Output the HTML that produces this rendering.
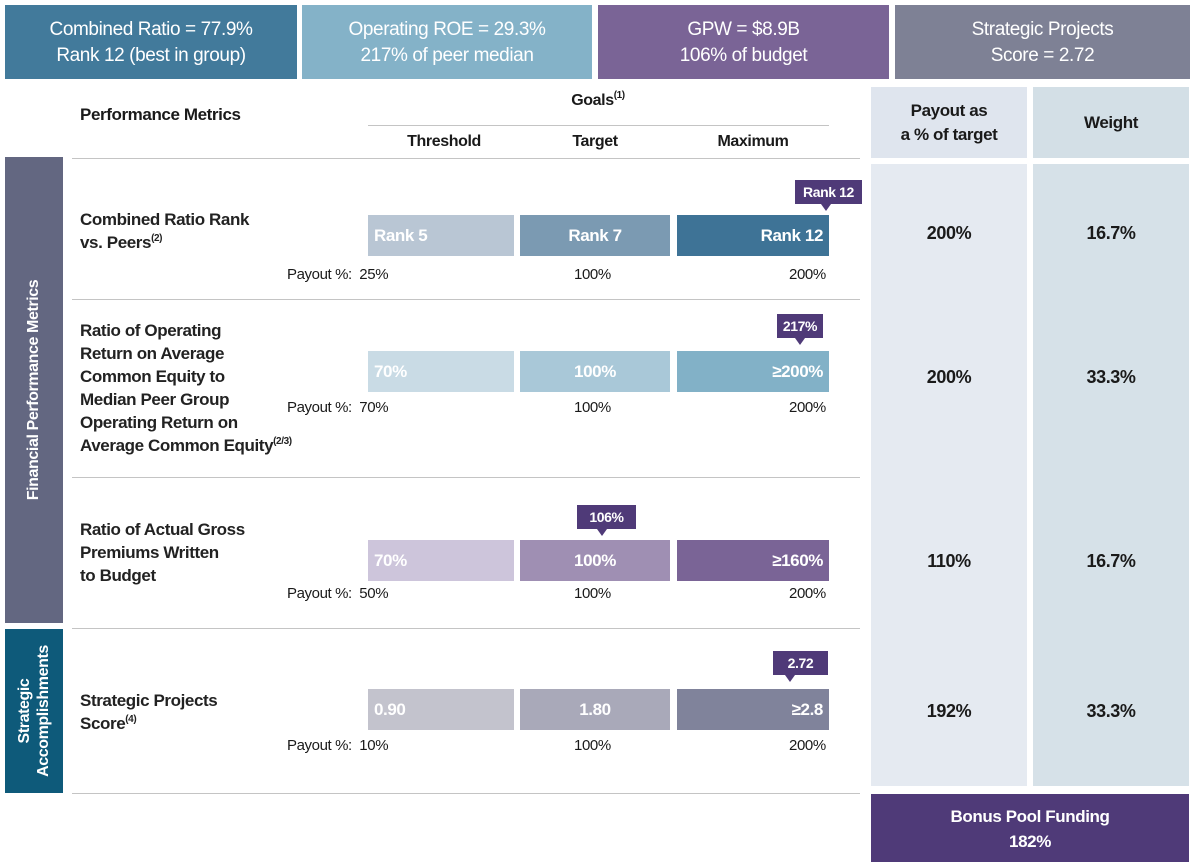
<!DOCTYPE html>
<html><head><meta charset="utf-8">
<style>
body{margin:0;width:1196px;height:868px;background:#fff;position:relative;overflow:hidden;font-family:"Liberation Sans",Arial,sans-serif;color:#1a1a1a;letter-spacing:-0.4px}
div{position:absolute;box-sizing:border-box}
.top{top:5px;height:74px;color:#fff;font-size:19px;text-align:center;line-height:26px;padding-top:12px}
.hd{font-weight:bold;font-size:17px}
.line{height:1px;background:#c4c4c4}
.bar{height:41px;color:#fff;font-weight:bold;font-size:17px;line-height:41px;padding:0 6px}
.lbl{left:80px;font-size:17px;line-height:23px;font-weight:bold;color:#222}
.pay{font-size:15px;line-height:16px}
.call{background:#4f3a78;color:#fff;font-size:14px;font-weight:bold;height:24px;line-height:24px;text-align:center}
.call:after{content:"";position:absolute;left:var(--p);bottom:-7px;border-left:5px solid transparent;border-right:5px solid transparent;border-top:7px solid #4f3a78;margin-left:-5px}
.val{font-size:18px;font-weight:bold;text-align:center;width:156px}
sup{font-size:10px;line-height:0;vertical-align:baseline;position:relative;top:-0.7em}
</style></head><body>
<div class="top" style="left:5px;width:292px;background:#427a9b">Combined Ratio = 77.9%<br>Rank 12 (best in group)</div>
<div class="top" style="left:302px;width:290px;background:#84b2c8">Operating ROE = 29.3%<br>217% of peer median</div>
<div class="top" style="left:598px;width:291px;background:#7a6496">GPW = $8.9B<br>106% of budget</div>
<div class="top" style="left:895px;width:295px;background:#7e8195">Strategic Projects<br>Score = 2.72</div>

<div class="hd" style="left:80px;top:105px">Performance Metrics</div>
<div class="hd" style="left:560px;top:92px;width:76px;text-align:center;font-size:16px">Goals<sup>(1)</sup></div>
<div class="line" style="left:368px;top:125px;width:461px"></div>
<div class="hd" style="left:368px;top:133px;width:152px;text-align:center;font-size:16px">Threshold</div>
<div class="hd" style="left:520px;top:133px;width:150px;text-align:center;font-size:16px">Target</div>
<div class="hd" style="left:677px;top:133px;width:152px;text-align:center;font-size:16px">Maximum</div>
<div class="line" style="left:72px;top:158px;width:788px"></div>

<div style="left:871px;top:87px;width:156px;height:71px;background:#dfe5ee;text-align:center;font-weight:bold;font-size:17px;line-height:24px;padding-top:12px">Payout as<br>a % of target</div>
<div style="left:1033px;top:87px;width:156px;height:71px;background:#d3dfe6;text-align:center;font-weight:bold;font-size:17px;line-height:71px">Weight</div>
<div style="left:871px;top:164px;width:156px;height:622px;background:#e5eaf1"></div>
<div style="left:1033px;top:164px;width:156px;height:622px;background:#d6e1e8"></div>

<div style="left:5px;top:157px;width:58px;height:466px;background:#636781"><div style="left:29px;top:233px;width:400px;margin-left:-200px;transform:rotate(-90deg);text-align:center;color:#fff;font-weight:bold;font-size:16px;line-height:20px;height:20px;margin-top:-10px">Financial Performance Metrics</div></div>
<div style="left:5px;top:629px;width:58px;height:164px;background:#0e5a7a"><div style="left:29px;top:82px;width:200px;margin-left:-100px;transform:rotate(-90deg);text-align:center;color:#fff;font-weight:bold;font-size:16px;line-height:19px;height:38px;margin-top:-19px">Strategic<br>Accomplishments</div></div>

<!-- row 1 -->
<div class="lbl" style="top:208px">Combined Ratio Rank<br>vs. Peers<sup>(2)</sup></div>
<div class="bar" style="left:368px;top:215px;width:146px;background:#b9c6d4">Rank 5</div>
<div class="bar" style="left:520px;top:215px;width:150px;background:#7b9ab2;text-align:center">Rank 7</div>
<div class="bar" style="left:677px;top:215px;width:152px;background:#3e7396;text-align:right">Rank 12</div>
<div class="call" style="left:795px;top:180px;width:67px;--p:31px">Rank 12</div>
<div class="pay" style="left:287px;top:267px">Payout %:&nbsp; 25%</div>
<div class="pay" style="left:574px;top:267px">100%</div>
<div class="pay" style="left:789px;top:267px">200%</div>
<div class="val" style="left:871px;top:223px">200%</div>
<div class="val" style="left:1033px;top:223px">16.7%</div>
<div class="line" style="left:72px;top:299px;width:788px"></div>

<!-- row 2 -->
<div class="lbl" style="top:319px">Ratio of Operating<br>Return on Average<br>Common Equity to<br>Median Peer Group<br>Operating Return on<br>Average Common Equity<sup>(2/3)</sup></div>
<div class="bar" style="left:368px;top:351px;width:146px;background:#c9dbe5">70%</div>
<div class="bar" style="left:520px;top:351px;width:150px;background:#a9c8d8;text-align:center">100%</div>
<div class="bar" style="left:677px;top:351px;width:152px;background:#82b1c7;text-align:right">≥200%</div>
<div class="call" style="left:777px;top:314px;width:46px;--p:23px">217%</div>
<div class="pay" style="left:287px;top:400px">Payout %:&nbsp; 70%</div>
<div class="pay" style="left:574px;top:400px">100%</div>
<div class="pay" style="left:789px;top:400px">200%</div>
<div class="val" style="left:871px;top:367px">200%</div>
<div class="val" style="left:1033px;top:367px">33.3%</div>
<div class="line" style="left:72px;top:477px;width:788px"></div>

<!-- row 3 -->
<div class="lbl" style="top:518px">Ratio of Actual Gross<br>Premiums Written<br>to Budget</div>
<div class="bar" style="left:368px;top:540px;width:146px;background:#cdc5db">70%</div>
<div class="bar" style="left:520px;top:540px;width:150px;background:#9f8fb3;text-align:center">100%</div>
<div class="bar" style="left:677px;top:540px;width:152px;background:#7a6496;text-align:right">≥160%</div>
<div class="call" style="left:577px;top:505px;width:59px;--p:25px">106%</div>
<div class="pay" style="left:287px;top:586px">Payout %:&nbsp; 50%</div>
<div class="pay" style="left:574px;top:586px">100%</div>
<div class="pay" style="left:789px;top:586px">200%</div>
<div class="val" style="left:871px;top:551px">110%</div>
<div class="val" style="left:1033px;top:551px">16.7%</div>
<div class="line" style="left:72px;top:628px;width:788px"></div>

<!-- row 4 -->
<div class="lbl" style="top:689px">Strategic Projects<br>Score<sup>(4)</sup></div>
<div class="bar" style="left:368px;top:689px;width:146px;background:#c3c3cd">0.90</div>
<div class="bar" style="left:520px;top:689px;width:150px;background:#a9a9b9;text-align:center">1.80</div>
<div class="bar" style="left:677px;top:689px;width:152px;background:#80839b;text-align:right">≥2.8</div>
<div class="call" style="left:773px;top:651px;width:55px;--p:17px">2.72</div>
<div class="pay" style="left:287px;top:738px">Payout %:&nbsp; 10%</div>
<div class="pay" style="left:574px;top:738px">100%</div>
<div class="pay" style="left:789px;top:738px">200%</div>
<div class="val" style="left:871px;top:701px">192%</div>
<div class="val" style="left:1033px;top:701px">33.3%</div>
<div class="line" style="left:72px;top:793px;width:788px"></div>

<div style="left:871px;top:794px;width:318px;height:68px;background:#4f3a78;color:#fff;text-align:center;font-weight:bold;font-size:17px;line-height:25px;padding-top:10px">Bonus Pool Funding<br>182%</div>
</body></html>
